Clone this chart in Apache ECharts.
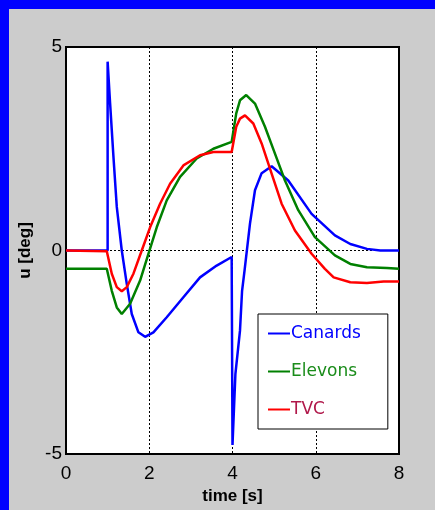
<!DOCTYPE html>
<html>
<head>
<meta charset="utf-8">
<script src="https://cdn.jsdelivr.net/npm/echarts@6/dist/echarts.min.js"></script>
<style>
  html, body { margin: 0; padding: 0; }
  #chart { width: 435px; height: 510px; }
</style>
</head>
<body>
<div id="chart"></div>
<script>
  // time [s] and deflection [deg]
  var canardsT = [0, 1.0, 1.0, 1.06, 1.14, 1.22, 1.34, 1.46, 1.58, 1.74, 1.90, 2.10, 2.42, 2.82, 3.22, 3.62, 3.98, 4.0, 4.04, 4.07, 4.18, 4.23, 4.29, 4.42, 4.54, 4.70, 4.94, 5.34, 5.90, 6.46, 6.83, 7.23, 7.55, 8];
  var canardsU = [0, 0, 4.64, 3.61, 2.30, 1.07, 0, -0.82, -1.56, -2.01, -2.12, -2.01, -1.64, -1.15, -0.66, -0.37, -0.16, -4.78, -4.75, -3.03, -1.97, -0.99, -0.49, 0.66, 1.48, 1.90, 2.07, 1.72, 0.90, 0.37, 0.16, 0.04, 0, 0];

  var elevonsT = [0, 0.98, 1.10, 1.22, 1.34, 1.54, 1.78, 1.98, 2.18, 2.42, 2.74, 3.14, 3.54, 3.98, 4.01, 4.09, 4.18, 4.33, 4.54, 4.78, 5.02, 5.26, 5.58, 5.98, 6.46, 6.83, 7.23, 7.71, 8];
  var elevonsU = [-0.45, -0.45, -0.99, -1.40, -1.56, -1.31, -0.74, -0.08, 0.57, 1.23, 1.81, 2.26, 2.50, 2.67, 2.67, 3.37, 3.69, 3.82, 3.61, 3.04, 2.38, 1.72, 0.99, 0.33, -0.12, -0.33, -0.41, -0.43, -0.45];

  var tvcT = [0, 0.98, 1.10, 1.22, 1.34, 1.46, 1.62, 1.82, 2.02, 2.26, 2.5, 2.82, 3.22, 3.54, 3.98, 4.01, 4.09, 4.18, 4.30, 4.50, 4.70, 4.94, 5.18, 5.50, 5.90, 6.22, 6.43, 6.83, 7.23, 7.63, 8];
  var tvcU = [0, -0.02, -0.57, -0.90, -1.0, -0.90, -0.57, 0, 0.57, 1.15, 1.64, 2.09, 2.34, 2.42, 2.42, 2.46, 3.04, 3.24, 3.32, 3.12, 2.63, 1.89, 1.15, 0.49, -0.08, -0.45, -0.66, -0.78, -0.80, -0.76, -0.76];

  function pairs(t, u) {
    var out = [];
    for (var i = 0; i < t.length; i++) out.push([t[i], u[i]]);
    return out;
  }

  var chart = echarts.init(document.getElementById('chart'));
  var font = 'Liberation Sans, Arial, sans-serif';
  var dotted = { color: '#000', width: 1, type: [2, 2] };

  var option = {
    backgroundColor: '#cccccc',
    animation: false,
    graphic: [
      { type: 'rect', left: 0, top: 0, shape: { width: 435, height: 9 }, style: { fill: '#0000ff' } },
      { type: 'rect', left: 0, top: 0, shape: { width: 9, height: 510 }, style: { fill: '#0000ff' } }
    ],
    grid: {
      left: 66, top: 47, width: 333, height: 407,
      show: true, backgroundColor: '#fff', borderColor: '#000', borderWidth: 2, z: 0
    },
    legend: {
      orient: 'vertical',
      left: 258, top: 314,
      padding: [11, 27, 11, 10],
      itemGap: 21,
      itemWidth: 22, itemHeight: 2,
      icon: 'rect',
      backgroundColor: '#fff',
      borderColor: '#000', borderWidth: 1,
      textStyle: { fontFamily: 'DejaVu Sans, sans-serif', fontSize: 17, padding: [0, 0, 0, -4] },
      data: [
        { name: 'Canards', textStyle: { color: '#0000ff' } },
        { name: 'Elevons', textStyle: { color: '#1a8c1a' } },
        { name: 'TVC', textStyle: { color: '#b0184a' } }
      ]
    },
    xAxis: {
      type: 'value', min: 0, max: 8, interval: 2,
      name: 'time [s]', nameLocation: 'middle', nameGap: 31,
      nameTextStyle: { fontFamily: font, fontSize: 17, fontWeight: 'bold', color: '#000' },
      axisLine: { show: false }, axisTick: { show: false },
      axisLabel: { fontFamily: font, fontSize: 19, color: '#000', margin: 10 },
      splitLine: { show: true, lineStyle: dotted }
    },
    yAxis: {
      type: 'value', min: -5, max: 5, interval: 5,
      name: 'u [deg]', nameLocation: 'middle', nameGap: 27,
      nameTextStyle: { fontFamily: font, fontSize: 17, fontWeight: 'bold', color: '#000' },
      axisLine: { show: false }, axisTick: { show: false },
      axisLabel: { fontFamily: font, fontSize: 19, color: '#000', margin: 4 },
      splitLine: { show: true, lineStyle: dotted }
    },
    series: [
      { name: 'Canards', type: 'line', showSymbol: false, color: '#0000ff', lineStyle: { width: 2.5 }, data: pairs(canardsT, canardsU) },
      { name: 'Elevons', type: 'line', showSymbol: false, color: '#008000', lineStyle: { width: 2.5 }, data: pairs(elevonsT, elevonsU) },
      { name: 'TVC', type: 'line', showSymbol: false, color: '#ff0000', lineStyle: { width: 2.5 }, data: pairs(tvcT, tvcU) }
    ]
  };
  chart.setOption(option);
</script>
</body>
</html>
